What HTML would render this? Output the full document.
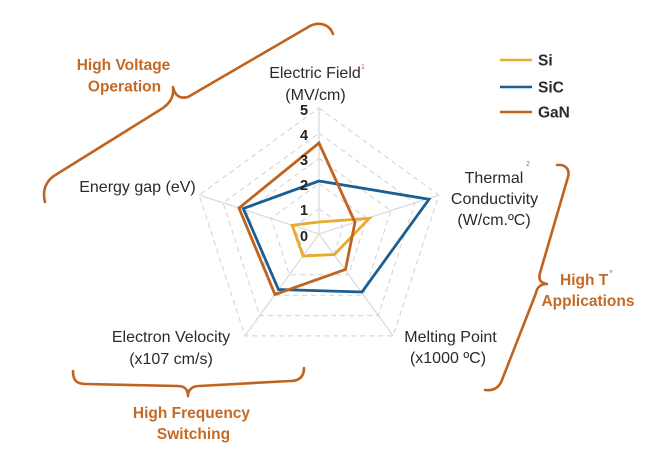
<!DOCTYPE html>
<html><head><meta charset="utf-8"><style>
html,body{margin:0;padding:0;background:#fff;}
svg{display:block;}
text{font-family:"Liberation Sans",Arial,sans-serif;}
</style></head><body>
<svg width="668" height="462" viewBox="0 0 668 462" xmlns="http://www.w3.org/2000/svg">
<rect width="668" height="462" fill="#fff"/>
<!-- grid -->
<g fill="none" stroke="#d0d0d0" stroke-width="1" stroke-dasharray="5 4">
<polygon points="319,208.8 343,226.2 333.8,254.4 304.2,254.4 295,226.2"/>
<polygon points="319,183.6 366.9,218.4 348.6,274.8 289.4,274.8 271.1,218.4"/>
<polygon points="319,158.4 390.9,210.6 363.4,295.2 274.6,295.2 247.1,210.6"/>
<polygon points="319,133.2 414.9,202.9 378.3,315.6 259.7,315.6 223.1,202.9"/>
<polygon points="319,108 438.8,195.1 393.1,335.9 244.9,335.9 199.2,195.1"/>
</g>
<g stroke="#dcdcdc" stroke-width="1.3">
<line x1="319" y1="234" x2="319" y2="108"/>
<line x1="319" y1="234" x2="438.8" y2="195.1"/>
<line x1="319" y1="234" x2="393.1" y2="335.9"/>
<line x1="319" y1="234" x2="244.9" y2="335.9"/>
<line x1="319" y1="234" x2="199.2" y2="195.1"/>
</g>
<!-- data -->
<g fill="none" stroke-width="2.8" stroke-linejoin="miter">
<polygon stroke="#E8AA30" points="319,222 369.3,218.3 334.5,254.5 303,256 292.2,225.3"/>
<polygon stroke="#1B5E91" points="319,181 429,199.3 362,292 278.5,289.5 243.3,208.5"/>
<polygon stroke="#C0631F" points="319,143 355,222.3 345.5,269.5 275,294.5 239,208"/>
</g>
<!-- axis numbers -->
<g font-size="14.5" font-weight="bold" fill="#222" text-anchor="middle">
<text x="304" y="115">5</text>
<text x="304" y="140">4</text>
<text x="304" y="165">3</text>
<text x="304" y="190">2</text>
<text x="304" y="215">1</text>
<text x="304" y="241">0</text>
</g>
<!-- axis labels -->
<g font-size="16" fill="#2a2a2a" text-anchor="middle">
<text x="315" y="78">Electric Field</text>
<text x="315.5" y="100">(MV/cm)</text>
<text x="137.5" y="192">Energy gap (eV)</text>
<text x="494" y="183">Thermal</text>
<text x="494.5" y="204">Conductivity</text>
<text x="494" y="225">(W/cm.ºC)</text>
<text x="450.5" y="342">Melting Point</text>
<text x="448" y="363">(x1000 ºC)</text>
<text x="171" y="342">Electron Velocity</text>
<text x="171" y="364">(x107 cm/s)</text>
</g>
<text x="363" y="69" font-size="7" fill="#b06a35" text-anchor="middle">1</text>
<text x="528" y="166" font-size="7" fill="#b06a35" text-anchor="middle">2</text>
<!-- legend -->
<g stroke-width="2.6">
<line x1="500" y1="60" x2="532" y2="60" stroke="#E8AA30"/>
<line x1="500" y1="87" x2="532" y2="87" stroke="#1B5E91"/>
<line x1="500" y1="112" x2="532" y2="112" stroke="#C0631F"/>
</g>
<g font-size="15.5" font-weight="bold" fill="#2a2a2a">
<text x="538" y="65.5">Si</text>
<text x="538" y="92.5">SiC</text>
<text x="538" y="117.5">GaN</text>
</g>
<!-- braces -->
<g fill="none" stroke="#C0631F" stroke-width="2.6" stroke-linecap="round" stroke-linejoin="round">
<path d="M45,202 C42,190 46,180 57,174 L163,108 C171,102 174,96 173,87 C175,96 180,99 188,97 L310,26 C320,21 330,25 333,34"/>
<path d="M73,371 C73,380 76,384 86,384 L178,386 C185,386 188,390 188,396 C188,390 192,386 199,386 L290,381 C300,381 304,376 304,368"/>
<path d="M557,165 C566,164 570,170 568,177 L540,273 C538,280 541,283 547,284 C541,284 537,287 536,293 L502,380 C499,388 493,391 485,390"/>
</g>
<!-- brace labels -->
<g font-size="15.5" font-weight="bold" fill="#C56A26" text-anchor="middle">
<text x="123.5" y="70">High Voltage</text>
<text x="124.5" y="91.5">Operation</text>
<text x="191.5" y="418">High Frequency</text>
<text x="193.5" y="439">Switching</text>
<text x="588" y="306">Applications</text>
</g>
<text x="560" y="285" font-size="15.5" font-weight="bold" fill="#C56A26">High T</text>
<text x="611" y="276" font-size="8" font-weight="bold" fill="#C56A26" text-anchor="middle">°</text>
</svg>
</body></html>
